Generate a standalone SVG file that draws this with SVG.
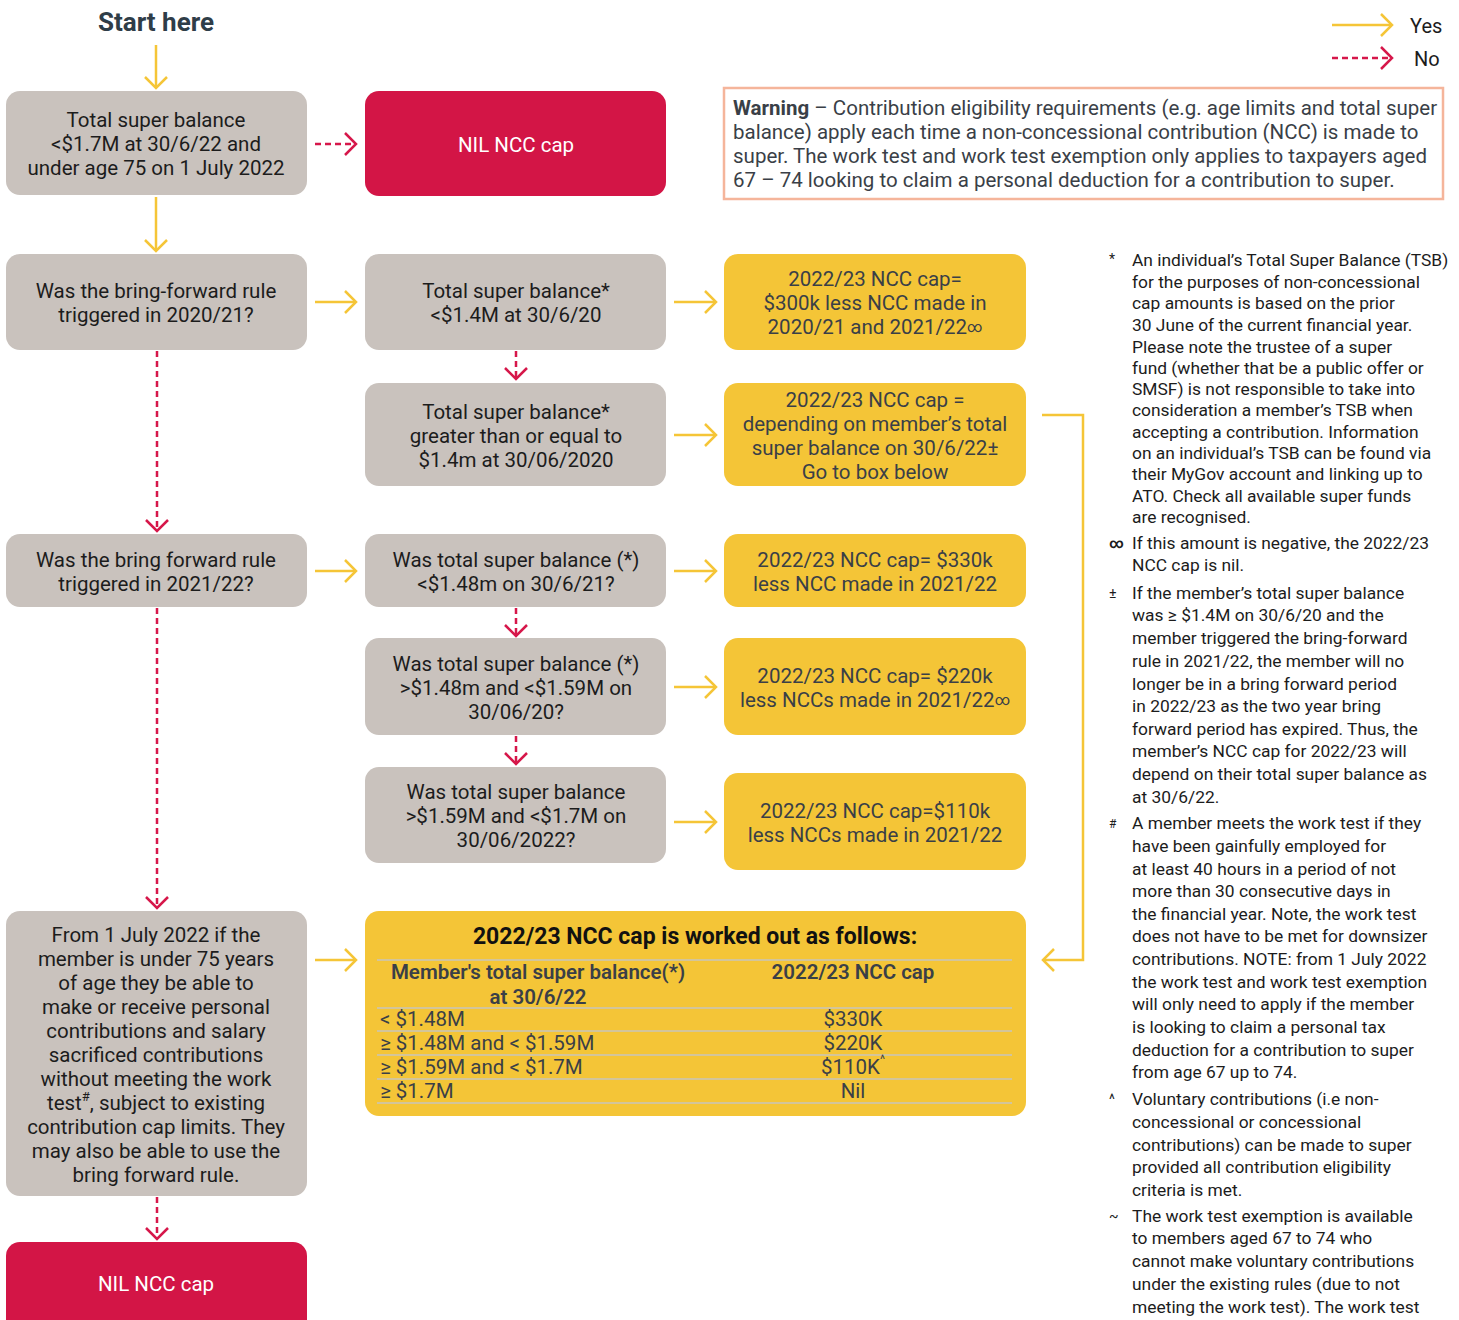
<svg xmlns="http://www.w3.org/2000/svg" width="1459" height="1320" viewBox="0 0 1459 1320">
<defs>
<style>
text{font-family:Roboto,"Liberation Sans",Arial,sans-serif;dominant-baseline:central}
.grey{fill:#c9c2bd}
.yel{fill:#f4c537}
.red{fill:#d31546}
.bt{font-size:20.5px;fill:#1c1c1c;text-anchor:middle}
.yt{font-size:20.5px;fill:#3a3f47;text-anchor:middle}
.wt{font-size:20.5px;fill:#fff;text-anchor:middle}
.yes{fill:none;stroke:#f5c537;stroke-width:2.5}
.no{fill:none;stroke:#d6174a;stroke-width:2.5;stroke-dasharray:6 4}
.fn{font-size:17.4px;fill:#1c1c1c}
.sym{font-size:14px;fill:#1c1c1c}
.tl{stroke:#c8c4bd;stroke-width:1.5}
.tt{font-size:20.5px;fill:#3a3f47}
.wn{font-size:20.5px;fill:#3a3f47}
</style>
<marker id="ay" markerUnits="userSpaceOnUse" markerWidth="16" markerHeight="26" viewBox="-2 -2 16 26" refX="12" refY="11" orient="auto"><path d="M1,0 L12,11 L1,22" fill="none" stroke="#f5c537" stroke-width="2.5"/></marker>
<marker id="ar" markerUnits="userSpaceOnUse" markerWidth="16" markerHeight="26" viewBox="-2 -2 16 26" refX="12" refY="11" orient="auto"><path d="M1,0 L12,11 L1,22" fill="none" stroke="#d6174a" stroke-width="2.5"/></marker>
</defs>
<rect width="1459" height="1320" fill="#fff"/>

<text x="156" y="22" style="font-size:26px;font-weight:700;fill:#2f3d48;text-anchor:middle">Start here</text>

<g id="legend">
<path class="yes" d="M1332,25 H1392" marker-end="url(#ay)"/>
<text x="1410" y="26" style="font-size:20px;fill:#1c1c1c">Yes</text>
<path class="no" d="M1332,58 H1392" marker-end="url(#ar)"/>
<text x="1414" y="59" style="font-size:20px;fill:#1c1c1c">No</text>
</g>

<g id="warning">
<rect x="724" y="88" width="719" height="111" fill="#fff" stroke="#f5b59b" stroke-width="2.5"/>
<text class="wn" x="733" y="108"><tspan font-weight="700">Warning</tspan> – Contribution eligibility requirements (e.g. age limits and total super</text>
<text class="wn" x="733" y="132">balance) apply each time a non-concessional contribution (NCC) is made to</text>
<text class="wn" x="733" y="156">super. The work test and work test exemption only applies to taxpayers aged</text>
<text class="wn" x="733" y="180">67 – 74 looking to claim a personal deduction for a contribution to super.</text>
</g>

<g id="n1"><rect class="grey" x="6" y="91" width="301" height="104" rx="14"/>
<text class="bt" x="156" y="120">Total super balance</text>
<text class="bt" x="156" y="144">&lt;$1.7M at 30/6/22 and</text>
<text class="bt" x="156" y="168">under age 75 on 1 July 2022</text></g>

<g id="n2"><rect class="red" x="365" y="91" width="301" height="105" rx="14"/>
<text class="wt" x="516" y="145">NIL NCC cap</text></g>

<g id="n3"><rect class="grey" x="6" y="254" width="301" height="96" rx="14"/>
<text class="bt" x="156" y="291">Was the bring-forward rule</text>
<text class="bt" x="156" y="315">triggered in 2020/21?</text></g>

<g id="n4"><rect class="grey" x="365" y="254" width="301" height="96" rx="14"/>
<text class="bt" x="516" y="291">Total super balance*</text>
<text class="bt" x="516" y="315">&lt;$1.4M at 30/6/20</text></g>

<g id="n5"><rect class="yel" x="724" y="254" width="302" height="96" rx="14"/>
<text class="yt" x="875" y="279">2022/23 NCC cap=</text>
<text class="yt" x="875" y="303">$300k less NCC made in</text>
<text class="yt" x="875" y="327">2020/21 and 2021/22<tspan font-size="15">∞</tspan></text></g>

<g id="n6"><rect class="grey" x="365" y="383" width="301" height="103" rx="14"/>
<text class="bt" x="516" y="412">Total super balance*</text>
<text class="bt" x="516" y="436">greater than or equal to</text>
<text class="bt" x="516" y="460">$1.4m at 30/06/2020</text></g>

<g id="n7"><rect class="yel" x="724" y="383" width="302" height="103" rx="14"/>
<text class="yt" x="875" y="400">2022/23 NCC cap =</text>
<text class="yt" x="875" y="424">depending on member’s total</text>
<text class="yt" x="875" y="448">super balance on 30/6/22±</text>
<text class="yt" x="875" y="472">Go to box below</text></g>

<g id="n8"><rect class="grey" x="6" y="534" width="301" height="73" rx="14"/>
<text class="bt" x="156" y="560">Was the bring forward rule</text>
<text class="bt" x="156" y="584">triggered in 2021/22?</text></g>

<g id="n9"><rect class="grey" x="365" y="534" width="301" height="73" rx="14"/>
<text class="bt" x="516" y="560">Was total super balance (*)</text>
<text class="bt" x="516" y="584">&lt;$1.48m on 30/6/21?</text></g>

<g id="n10"><rect class="yel" x="724" y="534" width="302" height="73" rx="14"/>
<text class="yt" x="875" y="560">2022/23 NCC cap= $330k</text>
<text class="yt" x="875" y="584">less NCC made in 2021/22</text></g>

<g id="n11"><rect class="grey" x="365" y="638" width="301" height="97" rx="14"/>
<text class="bt" x="516" y="664">Was total super balance (*)</text>
<text class="bt" x="516" y="688">&gt;$1.48m and &lt;$1.59M on</text>
<text class="bt" x="516" y="712">30/06/20?</text></g>

<g id="n12"><rect class="yel" x="724" y="638" width="302" height="97" rx="14"/>
<text class="yt" x="875" y="676">2022/23 NCC cap= $220k</text>
<text class="yt" x="875" y="700">less NCCs made in 2021/22<tspan font-size="15">∞</tspan></text></g>

<g id="n13"><rect class="grey" x="365" y="767" width="301" height="96" rx="14"/>
<text class="bt" x="516" y="792">Was total super balance</text>
<text class="bt" x="516" y="816">&gt;$1.59M and &lt;$1.7M on</text>
<text class="bt" x="516" y="840">30/06/2022?</text></g>

<g id="n14"><rect class="yel" x="724" y="773" width="302" height="97" rx="14"/>
<text class="yt" x="875" y="811">2022/23 NCC cap=$110k</text>
<text class="yt" x="875" y="835">less NCCs made in 2021/22</text></g>

<g id="n15"><rect class="grey" x="6" y="911" width="301" height="285" rx="14"/>
<text class="bt" x="156" y="935">From 1 July 2022 if the</text>
<text class="bt" x="156" y="959">member is under 75 years</text>
<text class="bt" x="156" y="983">of age they be able to</text>
<text class="bt" x="156" y="1007">make or receive personal</text>
<text class="bt" x="156" y="1031">contributions and salary</text>
<text class="bt" x="156" y="1055">sacrificed contributions</text>
<text class="bt" x="156" y="1079">without meeting the work</text>
<text class="bt" x="156" y="1103">test<tspan font-size="13" dy="-7">#</tspan><tspan dy="7">, subject to existing</tspan></text>
<text class="bt" x="156" y="1127">contribution cap limits. They</text>
<text class="bt" x="156" y="1151">may also be able to use the</text>
<text class="bt" x="156" y="1175">bring forward rule.</text></g>

<g id="n16"><rect class="yel" x="365" y="911" width="661" height="205" rx="14"/>
<text x="695" y="936" style="font-size:23px;font-weight:700;fill:#111;text-anchor:middle">2022/23 NCC cap is worked out as follows:</text>
<line class="tl" x1="377" y1="960" x2="1012" y2="960"/>
<text class="tt" x="538" y="972" style="font-weight:600;text-anchor:middle">Member's total super balance(*)</text>
<text class="tt" x="538" y="997" style="font-weight:600;text-anchor:middle">at 30/6/22</text>
<text class="tt" x="853" y="972" style="font-weight:600;text-anchor:middle">2022/23 NCC cap</text>
<line class="tl" x1="377" y1="1008" x2="1012" y2="1008"/>
<text class="tt" x="380" y="1019">&lt; $1.48M</text>
<text class="tt" x="853" y="1019" style="text-anchor:middle">$330K</text>
<line class="tl" x1="377" y1="1031" x2="1012" y2="1031"/>
<text class="tt" x="380" y="1043">≥ $1.48M and &lt; $1.59M</text>
<text class="tt" x="853" y="1043" style="text-anchor:middle">$220K</text>
<line class="tl" x1="377" y1="1055" x2="1012" y2="1055"/>
<text class="tt" x="380" y="1067">≥ $1.59M and &lt; $1.7M</text>
<text class="tt" x="853" y="1067" style="text-anchor:middle">$110K<tspan font-size="12" dy="-7">^</tspan></text>
<line class="tl" x1="377" y1="1079" x2="1012" y2="1079"/>
<text class="tt" x="380" y="1091">≥ $1.7M</text>
<text class="tt" x="853" y="1091" style="text-anchor:middle">Nil</text>
<line class="tl" x1="377" y1="1103" x2="1012" y2="1103"/>
</g>

<g id="n17"><rect class="red" x="6" y="1242" width="301" height="100" rx="14"/>
<text class="wt" x="156" y="1284">NIL NCC cap</text></g>

<g id="connectors">
<path class="yes" d="M156,45 V88" marker-end="url(#ay)"/>
<path class="yes" d="M156,197 V251" marker-end="url(#ay)"/>
<path class="no" d="M315,144 H356" marker-end="url(#ar)"/>
<path class="yes" d="M315,302 H356" marker-end="url(#ay)"/>
<path class="yes" d="M674,302 H716" marker-end="url(#ay)"/>
<path class="no" d="M516,351 V379" marker-end="url(#ar)"/>
<path class="yes" d="M674,435 H716" marker-end="url(#ay)"/>
<path class="no" d="M157,351 V531" marker-end="url(#ar)"/>
<path class="yes" d="M315,571 H356" marker-end="url(#ay)"/>
<path class="yes" d="M674,571 H716" marker-end="url(#ay)"/>
<path class="no" d="M516,608 V636" marker-end="url(#ar)"/>
<path class="yes" d="M674,687 H716" marker-end="url(#ay)"/>
<path class="no" d="M516,736 V764" marker-end="url(#ar)"/>
<path class="yes" d="M674,822 H716" marker-end="url(#ay)"/>
<path class="no" d="M157,608 V908" marker-end="url(#ar)"/>
<path class="yes" d="M315,960 H356" marker-end="url(#ay)"/>
<path class="yes" d="M1042,415 H1083 V960 H1043" marker-end="url(#ay)"/>
<path class="no" d="M157,1197 V1239" marker-end="url(#ar)"/>
</g>

<g id="footnotes">
<text class="sym" x="1109" y="259">*</text>
<text class="fn" x="1132"><tspan x="1132" y="260">An individual’s Total Super Balance (TSB)</tspan><tspan x="1132" y="282">for the purposes of non-concessional</tspan><tspan x="1132" y="303">cap amounts is based on the prior</tspan><tspan x="1132" y="325">30 June of the current financial year.</tspan><tspan x="1132" y="347">Please note the trustee of a super</tspan><tspan x="1132" y="368">fund (whether that be a public offer or</tspan><tspan x="1132" y="389">SMSF) is not responsible to take into</tspan><tspan x="1132" y="410">consideration a member’s TSB when</tspan><tspan x="1132" y="432">accepting a contribution. Information</tspan><tspan x="1132" y="453">on an individual’s TSB can be found via</tspan><tspan x="1132" y="474">their MyGov account and linking up to</tspan><tspan x="1132" y="496">ATO. Check all available super funds</tspan><tspan x="1132" y="517">are recognised.</tspan></text>
<text class="sym" x="1109" y="543" style="font-weight:700">∞</text>
<text class="fn"><tspan x="1132" y="543">If this amount is negative, the 2022/23</tspan><tspan x="1132" y="565">NCC cap is nil.</tspan></text>
<text class="sym" x="1109" y="593">±</text>
<text class="fn"><tspan x="1132" y="593">If the member’s total super balance</tspan><tspan x="1132" y="615">was ≥ $1.4M on 30/6/20 and the</tspan><tspan x="1132" y="638">member triggered the bring-forward</tspan><tspan x="1132" y="661">rule in 2021/22, the member will no</tspan><tspan x="1132" y="684">longer be in a bring forward period</tspan><tspan x="1132" y="706">in 2022/23 as the two year bring</tspan><tspan x="1132" y="729">forward period has expired. Thus, the</tspan><tspan x="1132" y="751">member’s NCC cap for 2022/23 will</tspan><tspan x="1132" y="774">depend on their total super balance as</tspan><tspan x="1132" y="797">at 30/6/22.</tspan></text>
<text class="sym" x="1109" y="824" style="font-size:12px">#</text>
<text class="fn"><tspan x="1132" y="823">A member meets the work test if they</tspan><tspan x="1132" y="846">have been gainfully employed for</tspan><tspan x="1132" y="869">at least 40 hours in a period of not</tspan><tspan x="1132" y="891">more than 30 consecutive days in</tspan><tspan x="1132" y="914">the financial year. Note, the work test</tspan><tspan x="1132" y="936">does not have to be met for downsizer</tspan><tspan x="1132" y="959">contributions. NOTE: from 1 July 2022</tspan><tspan x="1132" y="982">the work test and work test exemption</tspan><tspan x="1132" y="1004">will only need to apply if the member</tspan><tspan x="1132" y="1027">is looking to claim a personal tax</tspan><tspan x="1132" y="1050">deduction for a contribution to super</tspan><tspan x="1132" y="1072">from age 67 up to 74.</tspan></text>
<text class="sym" x="1109" y="1099">^</text>
<text class="fn"><tspan x="1132" y="1099">Voluntary contributions (i.e non-</tspan><tspan x="1132" y="1122">concessional or concessional</tspan><tspan x="1132" y="1145">contributions) can be made to super</tspan><tspan x="1132" y="1167">provided all contribution eligibility</tspan><tspan x="1132" y="1190">criteria is met.</tspan></text>
<text class="sym" x="1109" y="1216">~</text>
<text class="fn"><tspan x="1132" y="1216">The work test exemption is available</tspan><tspan x="1132" y="1238">to members aged 67 to 74 who</tspan><tspan x="1132" y="1261">cannot make voluntary contributions</tspan><tspan x="1132" y="1284">under the existing rules (due to not</tspan><tspan x="1132" y="1307">meeting the work test). The work test</tspan></text>
</g>
</svg>
